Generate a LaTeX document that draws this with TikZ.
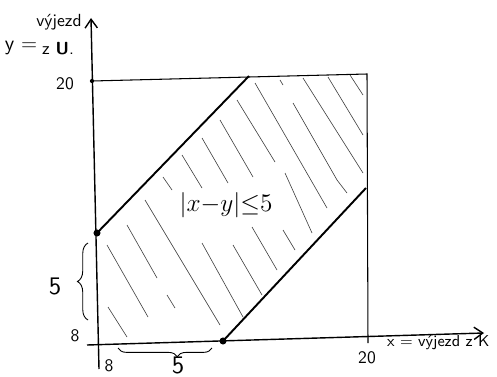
\documentclass[tikz,border=0pt]{standalone}
\usepackage{tikz}
\usetikzlibrary{arrows.meta, decorations.pathreplacing}

\begin{document}
\begin{tikzpicture}[x=0.02cm, y=0.02cm,
    every node/.style={font=\sffamily\small},
    axisline/.style={line width=0.8pt, -{Straight Barb[length=5pt, width=7pt]}},
    boxline/.style={line width=0.6pt},
    bandedge/.style={line width=1.1pt},
    hatch/.style={line width=0.35pt, black!75},
    bracemark/.style={decorate, decoration={brace, amplitude=6pt}, line width=0.5pt},
    ticklabel/.style={font=\sffamily\normalsize},
]
\useasboundingbox (0,0) rectangle (497,376);
% axes
\coordinate (ybot) at (99,7);
\coordinate (ytop) at (91,358);
\coordinate (xleft) at (87,31);
\coordinate (xright) at (484,43);
\draw[axisline] (ybot) -- (ytop);
\draw[axisline] (xleft) -- (xright);
% square up to 20
\coordinate (TL) at (92,295);
\coordinate (TR) at (367,302);
\coordinate (BR) at (368,33);
\draw[boxline] (TL) -- (TR) -- (BR);
% band |x-y| <= 5
\coordinate (A) at (97,143);
\coordinate (B) at (249,300);
\coordinate (C) at (223,35);
\coordinate (D) at (366,188);
\foreach \xa/\ya/\xb/\yb in {255/293/327/168, 237/276/275/214, 220/256/253/199, 202/238/228/193,
    182/221/202/188, 163/199/172/186, 280/296/283/291, 293/273/337/196, 303/298/363/203,
    328/299/363/241, 350/301/363/281, 337/196/347/183, 107/131/148/59, 108/69/127/39,
    127/151/157/98, 167/81/175/68, 145/176/220/51, 202/133/243/59, 233/131/262/81,
    252/149/277/106, 283/146/295/126, 285/203/312/143}
    \draw[hatch] (\xa,\ya) -- (\xb,\yb);
\draw[bandedge] (A) -- (B);
\draw[bandedge] (C) -- (D);
\fill (A) circle (2pt);
\fill (C) circle (2pt);
\fill (TL) circle (1.2pt);
% labels
\node[font=\sffamily\large] (yeq) at (21,328) {y =};
\node[font=\sffamily\normalsize] (yword) at (59,354) {výjezd};
\node[font=\sffamily\normalsize] (yfrom) at (58,327) {z \textbf{U}.};
\node[anchor=west] (xword) at (381,33) {x = výjezd z K};
\node[ticklabel] (ytwenty) at (65,292) {20};
\node[ticklabel] (xtwenty) at (367,18) {20};
\node[ticklabel] (yeight) at (75,40) {8};
\node[ticklabel] (xeight) at (109,10) {8};
\node[font=\Large] (ineq) at (226,171) {$|x{-}y|{\le}5$};
\draw[bracemark] (88,56) -- (88,133);
\node[font=\sffamily\Large] (yfive) at (55,90) {5};
\draw[bracemark, decoration={amplitude=5pt, aspect=0.37}] (212,28) -- (118,28);
\node[font=\sffamily\Large, inner sep=0pt, anchor=south] (xfive) at (178,2) {5};
\end{tikzpicture}
\end{document}
